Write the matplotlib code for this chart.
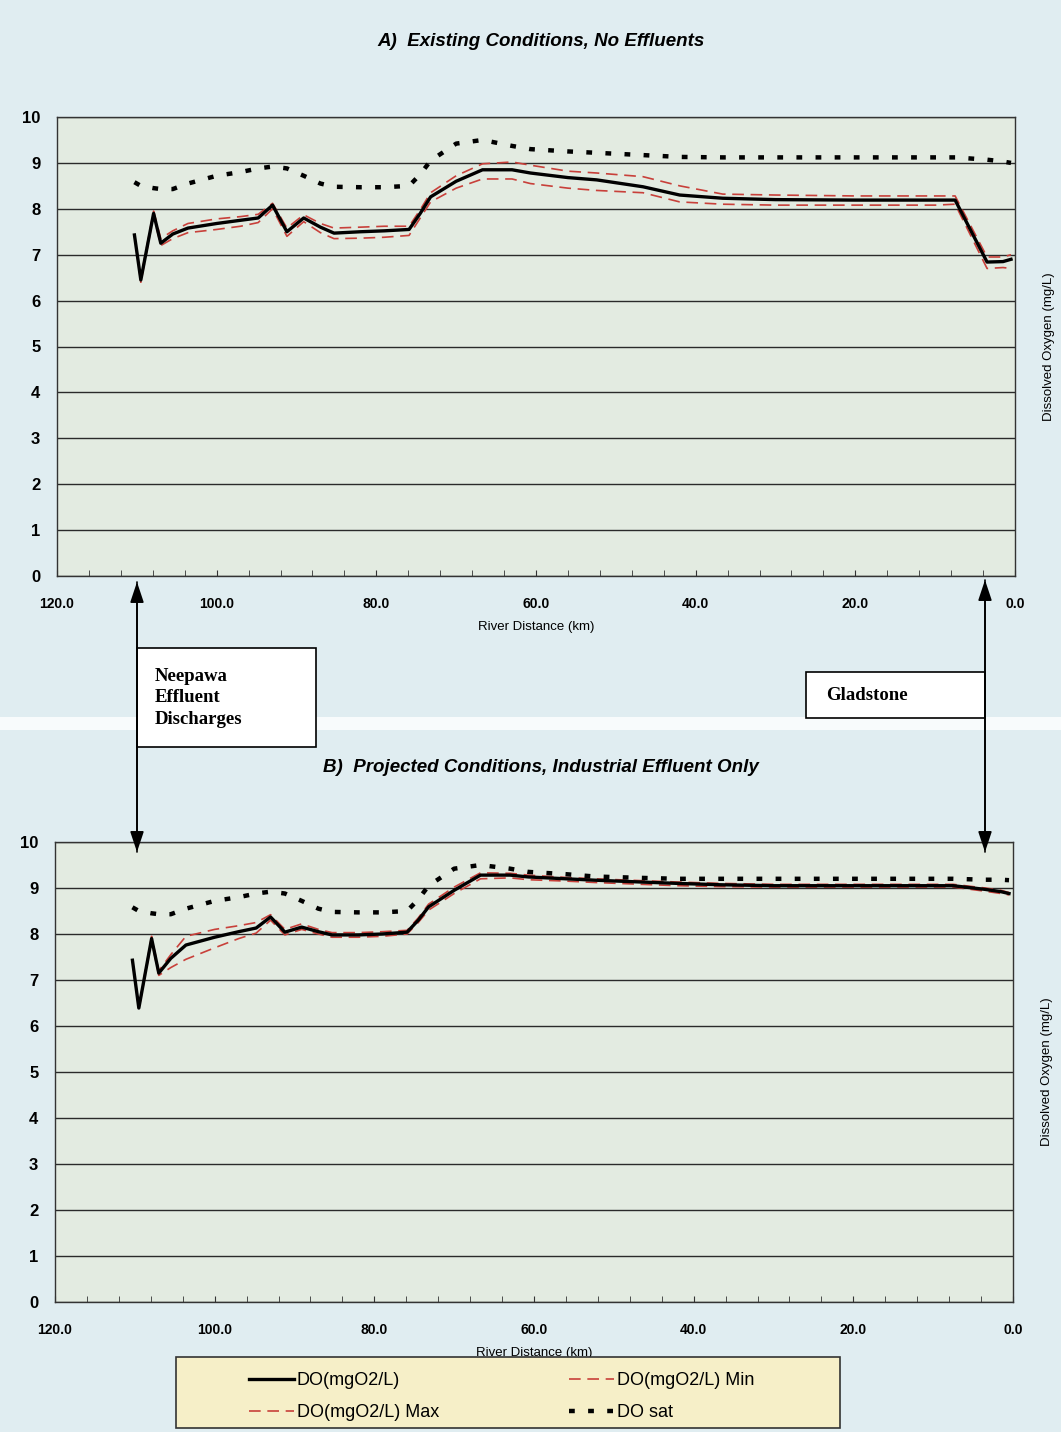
import numpy as np
from matplotlib import pyplot as plt
from matplotlib.patches import Rectangle, FancyArrowPatch
from matplotlib.ticker import MultipleLocator

# river distance (km) for every model station
km = [110.3, 109.5, 107.9, 107.0, 105.5, 103.6, 100.0, 97.0, 94.8, 93.0, 91.2, 89.1,
      87.0, 85.3, 82.0, 79.0, 75.9, 74.5, 73.2, 70.0, 66.7, 63.0, 60.7, 56.0, 52.4,
      46.6, 42.0, 36.6, 30.0, 20.0, 10.0, 7.5, 3.5, 1.5, 0.5]

# A) existing conditions
do_a = [7.43, 6.45, 7.9, 7.25, 7.45, 7.58, 7.68, 7.75, 7.8, 8.08, 7.5, 7.8, 7.6, 7.47,
        7.5, 7.52, 7.55, 7.9, 8.26, 8.6, 8.85, 8.85, 8.78, 8.68, 8.63, 8.48, 8.3, 8.23,
        8.2, 8.19, 8.19, 8.19, 6.84, 6.85, 6.9]
max_a = [7.43, 6.5, 7.95, 7.35, 7.52, 7.68, 7.78, 7.83, 7.88, 8.12, 7.58, 7.87, 7.68, 7.58,
         7.6, 7.62, 7.62, 7.98, 8.35, 8.72, 8.98, 9.02, 8.95, 8.82, 8.78, 8.7, 8.5, 8.32,
         8.3, 8.28, 8.28, 8.28, 6.95, 6.95, 7.0]
min_a = [7.43, 6.4, 7.85, 7.2, 7.35, 7.48, 7.55, 7.62, 7.7, 8.0, 7.4, 7.72, 7.48, 7.35,
         7.36, 7.38, 7.42, 7.8, 8.15, 8.45, 8.65, 8.65, 8.55, 8.45, 8.4, 8.35, 8.15, 8.1,
         8.08, 8.08, 8.08, 8.1, 6.7, 6.72, 6.7]
sat_a = [8.58, 8.5, 8.45, 8.43, 8.43, 8.55, 8.72, 8.8, 8.88, 8.92, 8.88, 8.72, 8.55, 8.48,
         8.47, 8.47, 8.5, 8.75, 9.05, 9.42, 9.5, 9.37, 9.3, 9.25, 9.22, 9.17, 9.13, 9.12,
         9.12, 9.12, 9.12, 9.12, 9.07, 9.03, 9.0]

# B) projected conditions, industrial effluent only
do_b = [7.43, 6.39, 7.9, 7.15, 7.47, 7.76, 7.93, 8.05, 8.13, 8.37, 8.04, 8.15, 8.05, 7.98,
        7.98, 8.0, 8.04, 8.3, 8.59, 8.95, 9.28, 9.28, 9.24, 9.2, 9.17, 9.13, 9.1, 9.07,
        9.05, 9.05, 9.05, 9.05, 8.97, 8.92, 8.88]
max_b = [7.43, 6.42, 7.95, 7.2, 7.55, 7.95, 8.1, 8.18, 8.25, 8.42, 8.1, 8.22, 8.1, 8.03,
         8.03, 8.05, 8.08, 8.35, 8.65, 9.02, 9.33, 9.32, 9.28, 9.23, 9.2, 9.16, 9.13, 9.1,
         9.08, 9.08, 9.08, 9.08, 9.0, 8.95, 8.9]
min_b = [7.43, 6.36, 7.85, 7.1, 7.27, 7.45, 7.7, 7.9, 8.02, 8.3, 7.98, 8.1, 8.0, 7.93,
         7.93, 7.95, 8.0, 8.25, 8.52, 8.88, 9.2, 9.22, 9.18, 9.15, 9.12, 9.08, 9.05, 9.03,
         9.02, 9.02, 9.02, 9.02, 8.93, 8.88, 8.85]
sat_b = [8.58, 8.5, 8.45, 8.43, 8.43, 8.55, 8.72, 8.8, 8.88, 8.92, 8.88, 8.72, 8.55, 8.48,
         8.47, 8.47, 8.5, 8.75, 9.05, 9.42, 9.5, 9.42, 9.35, 9.3, 9.25, 9.22, 9.2, 9.2,
         9.2, 9.2, 9.2, 9.2, 9.18, 9.18, 9.17]

titles = ["A)  Existing Conditions, No Effluents",
          "B)  Projected Conditions, Industrial Effluent Only"]
labels = ["DO(mgO2/L)", "DO(mgO2/L) Max", "DO(mgO2/L) Min", "DO sat"]

W, H = 1061, 1432
PAGE = "#e0edf1"
PLOT = "#e3ebe1"
RED = "#c8403a"

plt.rcParams['font.family'] = ['Liberation Sans', 'DejaVu Sans']

fig = plt.figure(figsize=(W / 100, H / 100), dpi=100, facecolor=PAGE)

def fx(px):
    return px / W

def fy(py):
    return 1 - py / H

# white seam between the two scanned pages
fig.patches.append(Rectangle((0, fy(730)), 1, 13 / H, transform=fig.transFigure,
                             facecolor="white", edgecolor="none", alpha=0.8, zorder=0))

def panel(rect, do, mx, mn, sat, title, title_y):
    ax = fig.add_axes(rect, facecolor=PLOT)
    ax.plot(km, do, color="black", lw=2.4, label=labels[0], zorder=4)
    ax.plot(km, mx, color=RED, lw=1.2, ls=(0, (7, 4)), label=labels[1], zorder=3)
    ax.plot(km, mn, color=RED, lw=1.2, ls=(0, (7, 4)), label=labels[2], zorder=3)
    ax.plot(km, sat, color="black", lw=3.2, ls=(0, (1.3, 3.0)), label=labels[3],
            dash_capstyle="butt", zorder=3)
    ax.set_xlim(120, 0)
    ax.set_ylim(0, 10)
    ax.set_yticks(range(0, 11))
    ax.set_xticks(np.arange(120, -1, -20))
    ax.set_xticklabels(["%.1f" % v for v in np.arange(120, -1, -20)])
    ax.xaxis.set_minor_locator(MultipleLocator(4))
    ax.grid(axis="y", color="#2a2a2a", lw=1.0)
    ax.set_axisbelow(True)
    for s in ax.spines.values():
        s.set_color("#333333")
        s.set_linewidth(1.0)
    ax.tick_params(axis="x", which="both", direction="in", length=4, pad=15,
                   labelsize=10, color="#333333")
    ax.tick_params(axis="y", length=0, pad=12, labelsize=12)
    for t in ax.get_xticklabels() + ax.get_yticklabels():
        t.set_fontweight("bold")
    ax.set_xlabel("River Distance (km)", fontsize=9.5, labelpad=7)
    ax.text(1.035, 0.5, "Dissolved Oxygen (mg/L)", transform=ax.transAxes,
            rotation=90, ha="center", va="center", fontsize=9.5)
    fig.text(0.51, fy(title_y), title, ha="center", va="center", fontsize=13.5,
             fontweight="heavy", style="italic")
    return ax

ax_a = panel([fx(57), fy(576), fx(958), 459 / H], do_a, max_a, min_a, sat_a, titles[0], 42)
ax_b = panel([fx(55), fy(1302), fx(958), 460 / H], do_b, max_b, min_b, sat_b, titles[1], 767)

# arrows between the panels, drawn above both axes
for x, y0, y1 in [(137, 582, 852), (985, 580, 852)]:
    for a, b in [(y1, y0), (y0, y1)]:
        fig.add_artist(FancyArrowPatch((fx(x), fy(a)), (fx(x), fy(b)),
                                       transform=fig.transFigure,
                                       arrowstyle="-|>,head_length=0.9,head_width=0.3",
                                       mutation_scale=14, color="black", lw=1.2,
                                       shrinkA=0, shrinkB=0, zorder=8))

for (x0, y0, x1, y1) in [(137, 648, 316, 747), (806, 672, 985, 718)]:
    fig.patches.append(Rectangle((fx(x0), fy(y1)), fx(x1 - x0), (y1 - y0) / H,
                                 transform=fig.transFigure, facecolor="white",
                                 edgecolor="black", lw=1.2, zorder=5))

fig.text(fx(155), fy(698), "Neepawa\nEffluent\nDischarges", ha="left", va="center",
         fontsize=13.5, fontweight="bold", family="Liberation Serif", linespacing=1.35,
         zorder=6)
fig.text(fx(826), fy(696), "Gladstone", ha="left", va="center", fontsize=13.5,
         fontweight="bold", family="Liberation Serif", zorder=6)

# legend box at the foot of the page
fig.add_artist(Rectangle((fx(176), fy(1428)), fx(840 - 176), 71 / H,
                         transform=fig.transFigure, facecolor="#f6efc8",
                         edgecolor="#333333", lw=1.2, zorder=9))
h, l = ax_b.get_legend_handles_labels()
leg = fig.legend(h, l, ncol=2, loc="upper left", bbox_to_anchor=(fx(240), fy(1363)),
                 frameon=False, fontsize=13, handlelength=2.5, handletextpad=0.15,
                 borderpad=0.0, labelspacing=0.85, columnspacing=7.2)
leg.set_zorder(10)

fig.savefig("out.png", dpi=100, facecolor=PAGE)
